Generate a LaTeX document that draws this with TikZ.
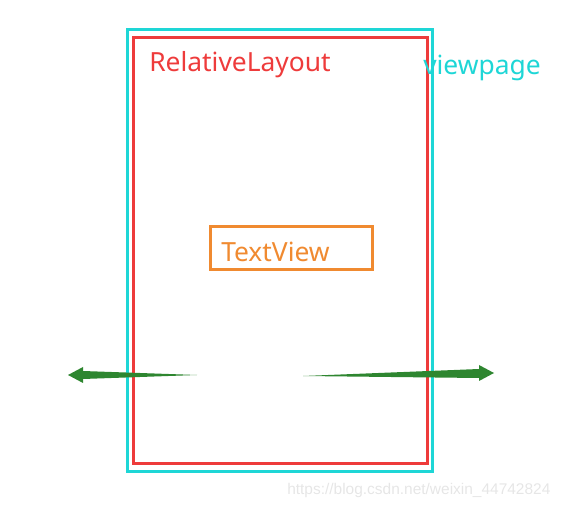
\documentclass[tikz,border=0pt]{standalone}
\usepackage{fontspec}
\setmainfont{Noto Sans}
\newfontfamily\wmfont{Liberation Sans}
\definecolor{cyanc}{HTML}{1ED6D6}
\definecolor{redc}{HTML}{EE3B3B}
\definecolor{orangec}{HTML}{F08A30}
\definecolor{greenc}{HTML}{2E8630}
\definecolor{wmc}{HTML}{E6E6E6}
\begin{document}
\begin{tikzpicture}[x=0.75pt,y=-0.75pt,
  frame/.style={draw,line width=2.2pt,inner sep=0pt},
  lbl/.style={font=\fontsize{19.8}{23}\selectfont,inner sep=0pt,anchor=west},
  garrow/.style={fill=greenc,draw=none}]
\useasboundingbox (0,0) rectangle (568,509);
\node[frame,draw=cyanc,minimum width=305*0.75pt,minimum height=442*0.75pt,anchor=north west] (vp) at (126,28) {};
\node[frame,draw=redc,minimum width=294*0.75pt,minimum height=426*0.75pt,anchor=north west] (rl) at (132,36) {};
\node[frame,draw=orangec,minimum width=162*0.75pt,minimum height=43*0.75pt,anchor=north west] (tv) at (209,225) {};
\node[lbl,text=redc] (rlt) at (149,65) {RelativeLayout};
\node[lbl,text=cyanc] (vpt) at (423,68) {viewpage};
\node[lbl,text=orangec] (tvt) at (221,252) {TextView};
\node[font=\wmfont\fontsize{11.6}{14}\selectfont,text=wmc,anchor=west,inner sep=0pt] (wm) at (287,491) {https://blog.csdn.net/weixin\_44742824};
\fill[garrow] (197,375) -- (83,371) -- (83,367) -- (68,375) -- (83,383) -- (83,379) -- cycle;
\fill[garrow] (303,376) -- (479,369) -- (479,365) -- (494,373) -- (479,381) -- (479,378) -- cycle;
\end{tikzpicture}
\end{document}
